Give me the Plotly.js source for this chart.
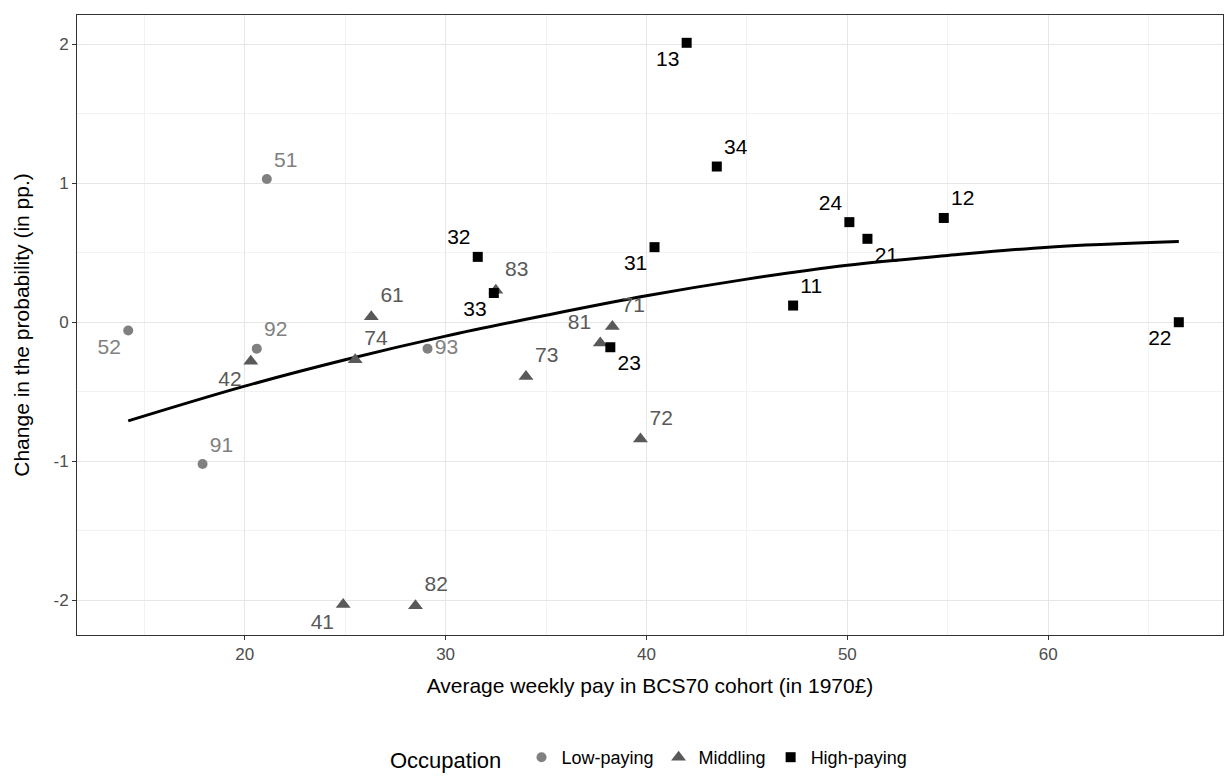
<!DOCTYPE html>
<html><head><meta charset="utf-8">
<script src="https://cdn.plot.ly/plotly-3.0.1.min.js"></script>
<style>body{margin:0;background:#fff}#chart{width:1225px;height:778px}</style>
</head><body><div id="chart"></div>
<script>
// Occupation groups: pay (x), change in probability (y), label, label side
const LOW_X = [21.1, 14.2, 20.6, 29.1, 17.9];
const LOW_Y = [1.03, -0.06, -0.19, -0.19, -1.02];
const LOW_LBL = ['51','52','92','93','91'];
const LOW_POS = ['top right','bottom left','top right','middle right','top right'];

const MID_X = [26.3, 20.3, 25.5, 32.5, 34.0, 37.7, 38.3, 39.7, 24.9, 28.5];
const MID_Y = [0.04, -0.28, -0.27, 0.23, -0.39, -0.15, -0.03, -0.84, -2.03, -2.04];
const MID_LBL = ['61','42','74','83','73','81','71','72','41','82'];
const MID_POS = ['top right','bottom left','top right','top right','top right','top left','top right','top right','bottom left','top right'];

const HIGH_X = [42.0, 43.5, 31.6, 32.4, 40.4, 38.2, 47.3, 50.1, 51.0, 54.8, 66.5];
const HIGH_Y = [2.01, 1.12, 0.47, 0.21, 0.54, -0.18, 0.12, 0.72, 0.60, 0.75, 0.00];
const HIGH_LBL = ['13','34','32','33','31','23','11','24','21','12','22'];
const HIGH_POS = ['bottom left','top right','top left','bottom left','bottom left','bottom right','top right','top left','bottom right','top right','bottom left'];

// fitted smooth line
const FIT_X = [14.2, 20, 25, 30, 35, 40, 45, 50, 55, 60, 66.5];
const FIT_Y = [-0.71, -0.46, -0.27, -0.10, 0.05, 0.19, 0.31, 0.41, 0.48, 0.54, 0.58];

const Y_TICKS = [-2, -1, 0, 1, 2];

function grp(x, y, lbl, pos, name, color, symbol, size) {
  return {x, y, text: lbl, textposition: pos, name, type: 'scatter', mode: 'markers+text',
    marker: {color, symbol, size}, textfont: {size: 21, color}, cliponaxis: false};
}

const traces = [
  {x: FIT_X, y: FIT_Y, type: 'scatter', mode: 'lines', line: {color: '#000', width: 3, shape: 'spline'}, showlegend: false, hoverinfo: 'skip'},
  grp(LOW_X, LOW_Y, LOW_LBL, LOW_POS, 'Low-paying', '#808080', 'circle', 10),
  grp(MID_X, MID_Y, MID_LBL, MID_POS, 'Middling', '#595959', 'triangle-up', 13),
  grp(HIGH_X, HIGH_Y, HIGH_LBL, HIGH_POS, 'High-paying', '#000000', 'square', 10)
];

const ax = {
  showline: true, mirror: true, linecolor: '#333', linewidth: 1, zeroline: false,
  gridcolor: '#e6e6e6', gridwidth: 1.3, ticks: 'outside', ticklen: 4, tickcolor: '#333',
  tickfont: {size: 17, color: '#4d4d4d'}, automargin: false
};

Plotly.newPlot('chart', traces, {
  width: 1225, height: 778,
  font: {family: 'Liberation Sans, Arial, sans-serif', color: '#000'},
  plot_bgcolor: '#fff', paper_bgcolor: '#fff',
  margin: {l: 77, r: 2, t: 15, b: 143, autoexpand: false},
  xaxis: {...ax, range: [11.65, 68.7], dtick: 10,
    minor: {showgrid: true, dtick: 5, gridcolor: '#f2f2f2', gridwidth: 0.8},
    title: {text: 'Average weekly pay in BCS70 cohort (in 1970£)', font: {size: 21}, standoff: 14}},
  yaxis: {...ax, range: [-2.25, 2.21], tickvals: Y_TICKS, ticktext: Y_TICKS.map(String),
    minor: {showgrid: true, tickvals: [-1.5, -0.5, 0.5, 1.5], gridcolor: '#f2f2f2', gridwidth: 0.8},
    title: {text: 'Change in the probability (in pp.)', font: {size: 21}, standoff: 18}},
  legend: {orientation: 'h', x: 0.5, xanchor: 'center', yref: 'container', y: 0.0, yanchor: 'bottom',
    title: {text: 'Occupation  ', font: {size: 22}}, font: {size: 18}},
  showlegend: true
}, {displayModeBar: false});
</script></body></html>
